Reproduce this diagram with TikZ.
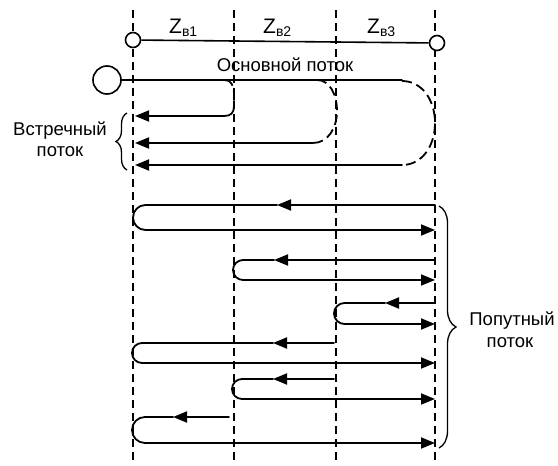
\documentclass[tikz,border=0pt]{standalone}
\usepackage{fontspec}
\setmainfont{Liberation Sans}
\usetikzlibrary{arrows.meta,decorations.pathreplacing}
\begin{document}
\begin{tikzpicture}[x=1pt,y=-1pt,
  flow/.style={line width=1.8pt, line cap=round},
  guide/.style={line width=1.3pt, dash pattern=on 8pt off 5pt},
  loopdash/.style={line width=1.8pt, dash pattern=on 10pt off 5pt},
  tip/.style={-{Triangle[length=14pt,width=11pt]}},
  hole/.style={circle, draw, line width=1.6pt, fill=white, inner sep=0pt, minimum size=#1},
  lbl/.style={font=\fontsize{18.5}{20}\selectfont, inner sep=0pt},
  zl/.style={font=\fontsize{21}{22}\selectfont, inner sep=0pt, anchor=base west},
  brc/.style={line width=1.3pt, decorate, decoration={brace, amplitude=#1}}
]
\useasboundingbox (0,0) rectangle (558,466);
% vertical guides
\foreach \gx/\gn in {133/g1,234/g2,336/g3,435/g4}{
  \coordinate (\gn t) at (\gx,10);
  \coordinate (\gn b) at (\gx,463);
  \draw[guide] (\gn t) -- (\gn b);
}
% top line with holes
\node[hole=15pt] (h1) at (133,40) {};
\node[hole=15pt] (h2) at (437,43) {};
\draw[line width=1.6pt] (h1) -- (h2);
\node[zl] (z1) at (169,33) {Z\raisebox{-0.3ex}{\fontsize{14}{15}\selectfont в1}};
\node[zl] (z2) at (263,33) {Z\raisebox{-0.3ex}{\fontsize{14}{15}\selectfont в2}};
\node[zl] (z3) at (367,33) {Z\raisebox{-0.3ex}{\fontsize{14}{15}\selectfont в3}};
% main flow
\node[lbl, anchor=base] (main) at (285,71) {Основной поток};
\node[hole=28pt] (src) at (107,80) {};
\coordinate (mend) at (402,80);
\draw[flow] (src.east) -- (mend);
% counter flow loops
\draw[loopdash] (225,80) .. controls (231,80) and (234,86) .. (234,94) -- (234,106);
\draw[flow] (234,106) .. controls (234,113) and (231,116) .. (224,116);
\draw[flow,tip] (224,116) -- (135,116);
\draw[loopdash] (317,80) .. controls (330,80) and (337,95) .. (337,111) .. controls (337,128) and (328,143) .. (313,143);
\draw[flow,tip] (313,143) -- (135,143);
\draw[loopdash] (402,81) .. controls (422,81) and (435,100) .. (435,123) .. controls (435,146) and (422,165) .. (402,165);
\draw[flow,tip] (402,165) -- (135,165);
\coordinate (lb1) at (127,170);
\coordinate (lb2) at (127,113);
\draw[brc=11pt] (lb1) -- (lb2);
\node[lbl, anchor=base] (t1) at (60,135) {Встречный};
\node[lbl, anchor=base] (t2) at (60,156) {поток};
% forward flow loops
% rows: start x, top y, mid arrow x, left x, bottom y
\foreach \sx/\ty/\ax/\lx/\by in {435/205/277/133/230, 435/260/274/233/280, 435/303/385/334/324, 334/343/273/132/363, 334/379/273/232/399, 229/417/173/132/443}{
  \pgfmathsetmacro{\r}{(\by-\ty)/2}
  \pgfmathsetmacro{\my}{(\ty+\by)/2}
  \pgfmathsetmacro{\cx}{\lx+\r}
  \draw[flow,tip] (\sx,\ty) -- (\ax,\ty);
  \draw[flow,tip] (\ax,\ty) -- (\cx,\ty) to[out=180,in=90] (\lx,\my) to[out=-90,in=180] (\cx,\by) -- (435,\by);
}
\coordinate (rb1) at (439,206);
\coordinate (rb2) at (439,448);
\draw[brc=17pt] (rb1) -- (rb2);
\node[lbl, anchor=base] (t3) at (512,325) {Попутный};
\node[lbl, anchor=base] (t4) at (510,347) {поток};
\end{tikzpicture}
\end{document}
